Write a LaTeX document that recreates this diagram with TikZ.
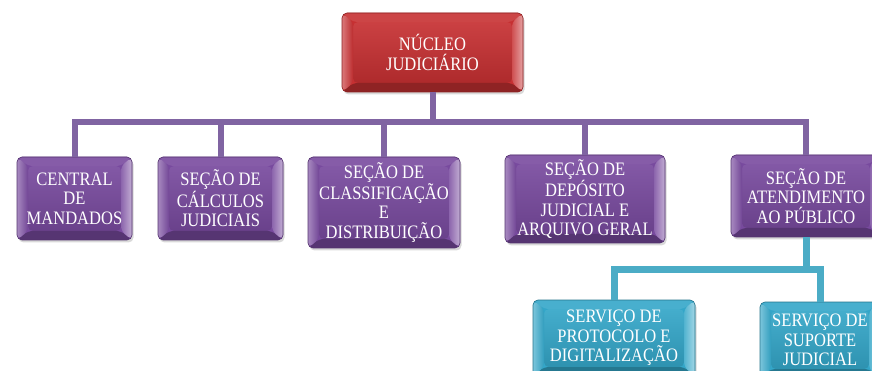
\documentclass[tikz,border=0pt]{standalone}
\usepackage{fontspec}
\setmainfont{Liberation Serif}[FakeStretch=0.87]
\usetikzlibrary{calc,shadows}
\definecolor{rootred}{RGB}{198,48,50}
\definecolor{boxpurple}{RGB}{120,74,158}
\definecolor{boxcyan}{RGB}{52,166,200}
\definecolor{linepurple}{RGB}{128,100,162}
\definecolor{linecyan}{RGB}{75,172,198}
\tikzset{
  box/.style={rectangle, rounded corners=5pt, fill=#1, draw=#1!70!black, line width=0.6pt,
    text=white, align=center, inner sep=0pt,
    font=\fontsize{19}{19.5}\selectfont,
    drop shadow={opacity=0.3, shadow xshift=1.5pt, shadow yshift=-2.5pt},
    path picture={
      \coordinate (bSW) at (path picture bounding box.south west);
      \coordinate (bNE) at (path picture bounding box.north east);
      \coordinate (bNW) at (bSW |- bNE);
      \coordinate (bSE) at (bNE |- bSW);
      \coordinate (iSW) at ($(bSW)+(11pt,9pt)$);
      \coordinate (iNE) at ($(bNE)+(-11pt,-9pt)$);
      \coordinate (iNW) at (iSW |- iNE);
      \coordinate (iSE) at (iNE |- iSW);
      \shade[top color=#1!92!white, bottom color=#1!88!black] (iSW) rectangle (iNE);
      \fill[#1!90!white] (bNW) -- (iNW) -- (iNE) -- (bNE) -- cycle;
      \fill[#1!72!black] (bSW) -- (iSW) -- (iSE) -- (bSE) -- cycle;
      \shade[left color=#1!65!white, right color=#1!95!black] (bSW) -- (iSW) -- (iNW) -- (bNW) -- cycle;
      \shade[left color=#1!85!white, right color=#1!45!white] (bSE) -- (iSE) -- (iNE) -- (bNE) -- cycle;
    }},
  pconn/.style={draw=linepurple, line width=6pt, line join=miter},
  cconn/.style={draw=linecyan, line width=7pt, line join=miter},
}
\begin{document}
\begin{tikzpicture}[x=1pt,y=-1pt]
\useasboundingbox (0,0) rectangle (872,371);
\coordinate (bar) at (0,122);
\coordinate (cbar) at (0,269);
% boxes
\node[box=rootred, minimum width=181, minimum height=79] (root) at (432.5,52.5) {NÚCLEO\\JUDICIÁRIO};
\node[box=boxpurple, minimum width=115, minimum height=83] (c1) at (74.5,198.5) {CENTRAL\\DE\\MANDADOS};
\node[box=boxpurple, minimum width=125, minimum height=83] (c2) at (220.5,198.5) {SEÇÃO DE\\CÁLCULOS\\JUDICIAIS};
\node[box=boxpurple, minimum width=152, minimum height=91] (c3) at (384,202.5) {SEÇÃO DE\\CLASSIFICAÇÃO\\E\\DISTRIBUIÇÃO};
\node[box=boxpurple, minimum width=160, minimum height=88] (c4) at (585,199) {SEÇÃO DE\\DEPÓSITO\\JUDICIAL E\\ARQUIVO GERAL};
\node[box=boxpurple, minimum width=150, minimum height=82] (c5) at (806,196) {SEÇÃO DE\\ATENDIMENTO\\AO PÚBLICO};
\node[box=boxcyan, minimum width=162, minimum height=76] (s1) at (614,338) {SERVIÇO DE\\PROTOCOLO E\\DIGITALIZAÇÃO};
\node[box=boxcyan, minimum width=120, minimum height=76] (s2) at (820,340) {SERVIÇO DE\\SUPORTE\\JUDICIAL};
% connectors
\draw[pconn] (root.south) -- (root.south |- bar) -| (c1.north);
\draw[pconn] (root.south) -- (root.south |- bar) -| (c2.north);
\draw[pconn] (root.south) -- (root.south |- bar) -| (c3.north);
\draw[pconn] (root.south) -- (root.south |- bar) -| (c4.north);
\draw[pconn] (root.south) -- (root.south |- bar) -| (c5.north);
\draw[cconn] (c5.south) -- (c5.south |- cbar) -| (s1.north);
\draw[cconn] (c5.south) -- (c5.south |- cbar) -| (s2.north);
\end{tikzpicture}
\end{document}
